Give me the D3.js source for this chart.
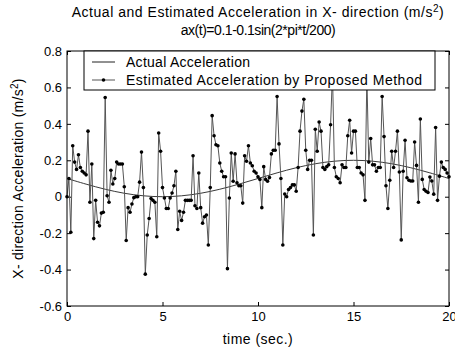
<!DOCTYPE html>
<html>
<head>
<meta charset="utf-8">
<script src="https://cdn.jsdelivr.net/npm/d3@7"></script>
<style>
  body { margin: 0; background: #fff; }
  svg { display: block; }
  text { font-family: "Liberation Sans", Arial, Helvetica, sans-serif; fill: #000; }
</style>
</head>
<body>
<svg id="chart" width="455" height="354"></svg>
<script>
// Sample interval of the estimated series (seconds)
const sampleStep = 0.1;

// Estimated acceleration by the proposed method, one value per 0.1 s from t = 0 to 20
const estimated = [
  0.00, 0.10, -0.195, 0.28, 0.19, 0.15, 0.23, 0.16, 0.14, 0.13,
  0.12, 0.36, -0.03, 0.18, -0.23, -0.02, -0.14, -0.16, -0.09, -0.085,
  0.545, 0.005, -0.03, 0.145, 0.07, 0.10, 0.19, 0.18, 0.18, 0.18,
  0.055, -0.24, -0.06, -0.085, -0.04, -0.005, 0.0, 0.0, 0.08, 0.245,
  0.05, -0.425, -0.21, -0.12, -0.01, -0.02, -0.03, -0.22, 0.35, 0.25,
  0.05, -0.007, -0.065, -0.065, -0.007, 0.02, 0.06, 0.14, -0.18, -0.08,
  -0.13, -0.085, -0.02, -0.02, -0.02, -0.02, 0.225, -0.05, -0.065, 0.13,
  -0.06, -0.145, -0.11, -0.10, -0.265, 0.05, 0.445, 0.335, 0.285, 0.28,
  0.185, 0.14, 0.11, 0.11, -0.395, -0.007, 0.24, 0.085, 0.235, 0.077,
  0.06, 0.06, -0.035, 0.225, 0.195, 0.28, 0.185, 0.17, 0.14, 0.13,
  0.11, 0.095, -0.06, 0.165, 0.095, 0.085, 0.105, 0.235, 0.255, 0.255,
  0.55, 0.29, 0.10, -0.265, 0.015, 0.0, 0.04, 0.05, 0.065, 0.065,
  0.03, 0.16, 0.36, 0.47, 0.535, 0.255, 0.15, 0.20, 0.20, -0.21,
  0.37, 0.25, 0.41, 0.36, 0.16, 0.15, 0.165, 0.175, 0.395, 0.68,
  0.16, 0.11, 0.10, 0.077, 0.175, 0.16, 0.16, 0.335, 0.42, 0.24,
  0.36, 0.36, 0.16, 0.16, 0.13, 0.12, -0.02, 0.66, 0.19, 0.32,
  0.175, 0.175, 0.14, 0.16, 0.16, 0.55, 0.33, 0.06, -0.065, 0.09,
  0.25, 0.16, 0.25, 0.36, 0.136, -0.237, 0.14, 0.31, 0.104, 0.09,
  0.086, 0.086, 0.30, 0.172, -0.03, 0.427, 0.095, 0.04, 0.03, 0.023,
  0.108, 0.086, 0.014, 0.38, -0.02, 0.113, 0.19, 0.16, 0.15, 0.13,
  0.11
];

// Actual acceleration, read once per second
const actualTime = [0, 1, 2, 3, 4, 5, 6, 7, 8, 9, 10, 11, 12, 13, 14, 15, 16, 17, 18, 19, 20];
const actualValues = [0.100, 0.069, 0.041, 0.019, 0.005, 0.000, 0.005, 0.019, 0.041, 0.069,
                      0.100, 0.131, 0.159, 0.181, 0.195, 0.200, 0.195, 0.181, 0.159, 0.131, 0.100];

const xTicks = [0, 5, 10, 15, 20];
const yTicks = [-0.6, -0.4, -0.2, 0, 0.2, 0.4, 0.6, 0.8];
const xDomain = [0, 20];
const yDomain = [-0.6, 0.8];

const legendLabels = ["Actual Acceleration", "Estimated Acceleration by Proposed Method"];

const margin = { left: 67, right: 6, top: 51, bottom: 48 };
const W = 455, H = 354;
const innerW = W - margin.left - margin.right;
const innerH = H - margin.top - margin.bottom;

const svg = d3.select("#chart");
const g = svg.append("g").attr("transform", `translate(${margin.left},${margin.top})`);

const x = d3.scaleLinear().domain(xDomain).range([0, innerW]);
const y = d3.scaleLinear().domain(yDomain).range([innerH, 0]);

// Spread a text's glyphs so it spans the given width
function fitWidth(sel, width) {
  const node = sel.node();
  const len = node.getComputedTextLength();
  const n = node.textContent.length;
  sel.attr("letter-spacing", ((width - len) / Math.max(n - 1, 1)).toFixed(3));
}

const tickLen = 4;
const fmt = d => String(+d.toFixed(1));

// Axes with inward ticks on all four sides
g.append("g").attr("transform", `translate(0,${innerH})`)
  .call(d3.axisBottom(x).tickValues(xTicks).tickFormat(fmt).tickSizeInner(-tickLen).tickSizeOuter(0).tickPadding(6))
  .call(a => a.select(".domain").remove());
g.append("g")
  .call(d3.axisTop(x).tickValues(xTicks).tickFormat("").tickSizeInner(-tickLen).tickSizeOuter(0))
  .call(a => a.select(".domain").remove());
g.append("g")
  .call(d3.axisLeft(y).tickValues(yTicks).tickFormat(fmt).tickSizeInner(-tickLen).tickSizeOuter(0).tickPadding(5))
  .call(a => a.select(".domain").remove());
g.append("g").attr("transform", `translate(${innerW},0)`)
  .call(d3.axisRight(y).tickValues(yTicks).tickFormat("").tickSizeInner(-tickLen).tickSizeOuter(0))
  .call(a => a.select(".domain").remove());

g.selectAll(".tick line").attr("stroke", "#000");
g.selectAll(".tick text").attr("font-size", 13).attr("font-family", "Liberation Sans, Arial, sans-serif");

// Actual acceleration curve
const actualLine = d3.line()
  .x((d, i) => x(actualTime[i]))
  .y(d => y(d))
  .curve(d3.curveCatmullRom);
g.append("path").datum(actualValues)
  .attr("d", actualLine)
  .attr("fill", "none").attr("stroke", "#222").attr("stroke-width", 0.9);

// Estimated acceleration with dot markers
const estLine = d3.line()
  .x((d, i) => x(i * sampleStep))
  .y(d => y(d));
g.append("path").datum(estimated)
  .attr("d", estLine)
  .attr("fill", "none").attr("stroke", "#555").attr("stroke-width", 1);
g.selectAll("circle.est").data(estimated).enter().append("circle")
  .attr("class", "est")
  .attr("cx", (d, i) => x(i * sampleStep))
  .attr("cy", d => y(d))
  .attr("r", 1.8)
  .attr("fill", "#000");

// Plot box
g.append("rect").attr("width", innerW).attr("height", innerH)
  .attr("fill", "none").attr("stroke", "#000").attr("stroke-width", 1);

// Legend
const lg = g.append("g").attr("transform", "translate(17,0)");
const lgW = 351, lgH = 39;
lg.append("rect").attr("width", lgW).attr("height", lgH)
  .attr("fill", "#fff").attr("stroke", "#000").attr("stroke-width", 1);
const rowY = [11, 29];
const legendWidths = [124, 296];
legendLabels.forEach((label, i) => {
  lg.append("line").attr("x1", 8).attr("x2", 31).attr("y1", rowY[i]).attr("y2", rowY[i])
    .attr("stroke", i === 0 ? "#222" : "#555").attr("stroke-width", 1);
  if (i === 1) lg.append("circle").attr("cx", 19.5).attr("cy", rowY[i]).attr("r", 1.8).attr("fill", "#000");
  const t = lg.append("text").attr("x", 42).attr("y", rowY[i]).attr("dy", "0.35em")
    .attr("font-size", 14).text(label);
  fitWidth(t, legendWidths[i]);
});

// Titles
const cx = margin.left + innerW / 2;
const t1 = svg.append("text").attr("x", cx).attr("y", 17).attr("text-anchor", "middle").attr("font-size", 14);
t1.append("tspan").text("Actual and Estimated Acceleration in X- direction (m/s");
t1.append("tspan").attr("font-size", 10).attr("dy", -5).text("2");
t1.append("tspan").attr("dy", 5).text(")");
fitWidth(t1, 372);
const t2 = svg.append("text").attr("x", cx).attr("y", 35).attr("text-anchor", "middle").attr("font-size", 14)
  .text("ax(t)=0.1-0.1sin(2*pi*t/200)");
fitWidth(t2, 155);

// Axis labels
const xl = svg.append("text").attr("x", cx).attr("y", H - 10).attr("text-anchor", "middle").attr("font-size", 14)
  .text("time (sec.)");
fitWidth(xl, 70);
const yl = svg.append("text").attr("transform", `translate(23,${margin.top + innerH / 2}) rotate(-90)`)
  .attr("text-anchor", "middle").attr("font-size", 14);
yl.append("tspan").text("X- direction Acceleration (m/s");
yl.append("tspan").attr("font-size", 10).attr("dy", -5).text("2");
yl.append("tspan").attr("dy", 5).text(")");
fitWidth(yl, 200);
</script>
</body>
</html>
